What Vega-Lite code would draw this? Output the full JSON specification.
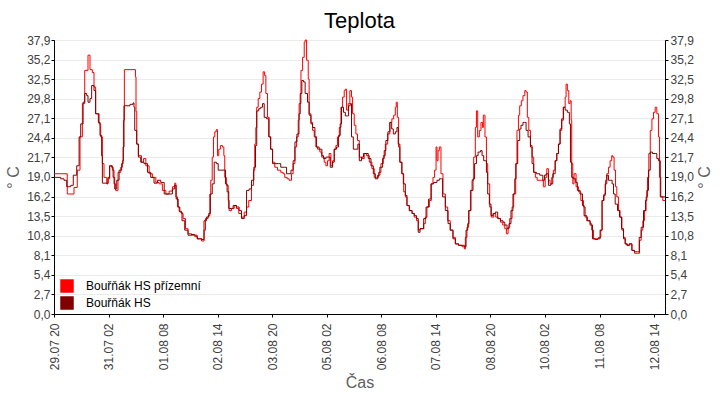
{
 "$schema": "https://vega.github.io/schema/vega-lite/v6.json",
 "width": 611,
 "height": 274,
 "autosize": {"type": "none"},
 "padding": {"left": 54, "top": 40, "right": 55, "bottom": 86},
 "background": "white",
 "title": {"text": "Teplota", "fontSize": 22, "font": "Liberation Sans", "fontWeight": "normal", "color": "#000000", "anchor": "middle", "offset": 1},
 "datasets": {
  "prizemni": [{"h":0,"t":19.4},{"h":7.3,"t":16.6},{"h":11.0,"t":17.5},{"h":12.8,"t":19.9},{"h":14.3,"t":24.5},{"h":15.6,"t":29.1},{"h":16.9,"t":33.7},{"h":18.7,"t":35.8},{"h":19.8,"t":33.8},{"h":21.1,"t":33.4},{"h":22.0,"t":31.4},{"h":22.9,"t":27.7},{"h":24.8,"t":26.3},{"h":25.7,"t":24.5},{"h":26.6,"t":20.8},{"h":27.5,"t":18.9},{"h":29.0,"t":18.0},{"h":29.7,"t":18.7},{"h":30.6,"t":20.5},{"h":32.1,"t":19.9},{"h":33.0,"t":18.0},{"h":33.9,"t":17.1},{"h":35.2,"t":19.6},{"h":36.7,"t":20.3},{"h":37.6,"t":21.2},{"h":38.2,"t":26.8},{"h":38.7,"t":33.8},{"h":44.0,"t":33.8},{"h":44.8,"t":32.8},{"h":45.1,"t":28.0},{"h":45.5,"t":23.5},{"h":46.4,"t":21.9},{"h":48.1,"t":21.0},{"h":49.2,"t":21.5},{"h":50.5,"t":20.5},{"h":52.3,"t":19.4},{"h":54.1,"t":18.9},{"h":56.0,"t":18.2},{"h":57.8,"t":18.0},{"h":59.6,"t":17.1},{"h":61.5,"t":16.6},{"h":63.3,"t":17.0},{"h":65.1,"t":17.6},{"h":66.4,"t":18.1},{"h":67.0,"t":16.2},{"h":67.9,"t":14.8},{"h":68.8,"t":14.2},{"h":70.1,"t":13.9},{"h":71.0,"t":13.2},{"h":72.3,"t":11.8},{"h":73.7,"t":11.1},{"h":75.6,"t":10.9},{"h":77.4,"t":10.7},{"h":78.9,"t":10.4},{"h":81.1,"t":10.1},{"h":82.5,"t":11.6},{"h":83.3,"t":13.2},{"h":84.7,"t":13.6},{"h":85.7,"t":16.6},{"h":86.2,"t":18.5},{"h":87.0,"t":21.7},{"h":87.7,"t":24.5},{"h":88.4,"t":25.2},{"h":89.2,"t":25.5},{"h":89.9,"t":21.9},{"h":90.6,"t":22.8},{"h":91.5,"t":23.3},{"h":92.6,"t":23.1},{"h":93.4,"t":21.9},{"h":93.9,"t":18.9},{"h":94.8,"t":17.8},{"h":95.8,"t":15.7},{"h":96.3,"t":14.3},{"h":97.6,"t":14.6},{"h":99.1,"t":15.0},{"h":100.3,"t":14.6},{"h":101.6,"t":13.9},{"h":103.1,"t":13.4},{"h":104.6,"t":14.1},{"h":105.9,"t":14.8},{"h":107.1,"t":15.7},{"h":108.6,"t":17.8},{"h":109.7,"t":19.9},{"h":110.4,"t":23.5},{"h":111.0,"t":25.8},{"h":111.5,"t":28.6},{"h":112.3,"t":29.8},{"h":113.2,"t":30.7},{"h":114.1,"t":31.8},{"h":115.0,"t":33.5},{"h":115.8,"t":33.0},{"h":116.5,"t":30.5},{"h":117.4,"t":27.2},{"h":118.3,"t":24.5},{"h":119.2,"t":22.8},{"h":120.2,"t":21.0},{"h":121.4,"t":20.3},{"h":122.9,"t":19.9},{"h":124.7,"t":19.6},{"h":126.0,"t":19.4},{"h":126.9,"t":18.9},{"h":128.2,"t":18.7},{"h":129.3,"t":18.5},{"h":130.6,"t":19.4},{"h":131.5,"t":20.8},{"h":132.5,"t":23.1},{"h":133.4,"t":24.5},{"h":134.3,"t":26.8},{"h":134.8,"t":29.1},{"h":135.8,"t":33.7},{"h":136.7,"t":35.5},{"h":137.6,"t":37.6},{"h":138.1,"t":37.9},{"h":138.9,"t":35.1},{"h":139.8,"t":32.5},{"h":140.3,"t":27.7},{"h":141.3,"t":26.5},{"h":142.2,"t":25.4},{"h":143.1,"t":24.5},{"h":144.0,"t":23.1},{"h":144.9,"t":22.8},{"h":146.2,"t":22.4},{"h":147.3,"t":21.7},{"h":148.6,"t":21.0},{"h":149.5,"t":20.5},{"h":150.4,"t":21.2},{"h":151.3,"t":22.2},{"h":152.3,"t":20.5},{"h":153.2,"t":21.2},{"h":154.1,"t":22.8},{"h":155.0,"t":23.3},{"h":155.9,"t":24.5},{"h":156.9,"t":25.8},{"h":157.8,"t":28.6},{"h":158.7,"t":30.0},{"h":159.6,"t":30.9},{"h":160.2,"t":31.1},{"h":160.9,"t":28.2},{"h":161.8,"t":29.1},{"h":162.7,"t":30.9},{"h":163.6,"t":30.0},{"h":164.2,"t":27.7},{"h":165.1,"t":26.1},{"h":166.0,"t":24.9},{"h":166.9,"t":24.0},{"h":167.9,"t":21.7},{"h":169.3,"t":21.5},{"h":170.6,"t":22.2},{"h":171.9,"t":21.9},{"h":173.4,"t":21.0},{"h":174.8,"t":20.1},{"h":176.1,"t":18.9},{"h":177.4,"t":18.9},{"h":178.5,"t":19.6},{"h":179.8,"t":20.8},{"h":181.1,"t":21.9},{"h":182.2,"t":23.5},{"h":183.5,"t":24.9},{"h":184.7,"t":26.5},{"h":185.8,"t":27.0},{"h":186.8,"t":27.5},{"h":187.7,"t":28.6},{"h":188.2,"t":29.3},{"h":188.8,"t":27.2},{"h":189.5,"t":23.1},{"h":190.2,"t":21.0},{"h":191.3,"t":19.4},{"h":192.3,"t":16.9},{"h":193.2,"t":16.2},{"h":194.1,"t":15.0},{"h":195.4,"t":14.3},{"h":196.9,"t":13.9},{"h":198.1,"t":13.4},{"h":199.4,"t":12.9},{"h":200.3,"t":11.6},{"h":201.3,"t":11.8},{"h":203.3,"t":12.5},{"h":204.2,"t":13.4},{"h":205.1,"t":14.8},{"h":206.4,"t":15.7},{"h":207.5,"t":18.0},{"h":208.4,"t":18.9},{"h":209.3,"t":19.9},{"h":210.1,"t":23.1},{"h":210.6,"t":21.2},{"h":211.2,"t":22.6},{"h":211.9,"t":23.1},{"h":212.8,"t":19.4},{"h":213.9,"t":16.6},{"h":215.2,"t":14.8},{"h":216.5,"t":12.9},{"h":217.9,"t":11.6},{"h":219.4,"t":10.6},{"h":220.7,"t":9.7},{"h":222.5,"t":9.5},{"h":224.4,"t":9.3},{"h":225.7,"t":9.0},{"h":226.2,"t":10.6},{"h":227.1,"t":12.0},{"h":228.0,"t":14.3},{"h":229.0,"t":17.1},{"h":229.9,"t":18.5},{"h":230.8,"t":21.7},{"h":231.7,"t":25.8},{"h":232.3,"t":28.1},{"h":233.0,"t":24.5},{"h":233.9,"t":25.4},{"h":234.8,"t":26.5},{"h":235.6,"t":25.8},{"h":236.1,"t":27.5},{"h":237.0,"t":24.5},{"h":237.8,"t":20.8},{"h":238.5,"t":18.0},{"h":239.6,"t":14.8},{"h":240.5,"t":13.4},{"h":241.8,"t":13.9},{"h":242.9,"t":13.4},{"h":244.2,"t":13.2},{"h":245.5,"t":12.7},{"h":246.8,"t":12.3},{"h":247.9,"t":11.8},{"h":248.8,"t":11.1},{"h":249.7,"t":12.0},{"h":250.6,"t":13.2},{"h":251.9,"t":14.8},{"h":252.8,"t":16.6},{"h":253.9,"t":20.8},{"h":254.6,"t":25.4},{"h":255.4,"t":27.5},{"h":256.1,"t":28.8},{"h":257.0,"t":29.5},{"h":257.9,"t":30.2},{"h":258.9,"t":30.9},{"h":259.6,"t":30.7},{"h":260.3,"t":27.2},{"h":261.1,"t":25.4},{"h":262.0,"t":23.3},{"h":262.9,"t":21.7},{"h":263.8,"t":19.6},{"h":264.7,"t":18.9},{"h":265.7,"t":18.5},{"h":267.1,"t":18.5},{"h":268.2,"t":18.5},{"h":269.1,"t":17.6},{"h":270.1,"t":18.9},{"h":271.0,"t":20.1},{"h":271.9,"t":18.5},{"h":272.8,"t":18.0},{"h":273.7,"t":18.9},{"h":274.6,"t":19.9},{"h":275.6,"t":21.2},{"h":276.5,"t":22.2},{"h":277.4,"t":23.5},{"h":278.3,"t":25.4},{"h":279.2,"t":26.8},{"h":280.1,"t":28.6},{"h":281.1,"t":30.0},{"h":281.6,"t":31.8},{"h":282.3,"t":30.9},{"h":283.1,"t":29.1},{"h":283.8,"t":29.5},{"h":284.4,"t":26.8},{"h":284.7,"t":20.8},{"h":285.3,"t":18.0},{"h":286.0,"t":19.4},{"h":287.1,"t":17.6},{"h":288.4,"t":16.9},{"h":289.7,"t":15.7},{"h":291.2,"t":14.8},{"h":292.1,"t":13.4},{"h":293.4,"t":12.9},{"h":294.8,"t":12.5},{"h":295.7,"t":11.6},{"h":296.7,"t":10.4},{"h":298.1,"t":10.4},{"h":299.4,"t":10.6},{"h":300.7,"t":11.6},{"h":301.4,"t":15.7},{"h":302.5,"t":16.6},{"h":303.3,"t":18.5},{"h":304.0,"t":19.4},{"h":304.9,"t":20.3},{"h":305.8,"t":21.2},{"h":306.7,"t":21.9},{"h":307.3,"t":21.7},{"h":308.0,"t":19.9},{"h":308.8,"t":17.6},{"h":309.5,"t":16.2},{"h":310.4,"t":14.3},{"h":311.3,"t":13.4},{"h":312.3,"t":11.6},{"h":313.2,"t":10.6},{"h":314.1,"t":9.7},{"h":315.4,"t":9.5},{"h":316.5,"t":9.7},{"h":317.8,"t":8.8},{"h":319.2,"t":8.4},{"h":320.9,"t":8.4},{"h":322.0,"t":10.2},{"h":322.9,"t":11.6},{"h":323.8,"t":12.9},{"h":324.7,"t":14.3},{"h":325.6,"t":16.2},{"h":326.4,"t":18.9},{"h":327.1,"t":22.2},{"h":327.9,"t":25.4},{"h":328.8,"t":27.0},{"h":329.7,"t":27.9},{"h":330.6,"t":28.6},{"h":331.5,"t":27.7},{"h":332.4,"t":24.5},{"h":333.0,"t":18.9},{"h":333.7,"t":16.2},{"h":334.8,"t":15.7},{"h":336.0,"t":15.7}],
  "hs": [{"h":0,"t":18.9},{"h":3.7,"t":18.7},{"h":5.5,"t":18.5},{"h":7.0,"t":17.6},{"h":9.2,"t":17.8},{"h":10.6,"t":19.2},{"h":12.5,"t":20.5},{"h":13.8,"t":24.5},{"h":14.7,"t":26.3},{"h":16.0,"t":29.3},{"h":16.9,"t":30.5},{"h":18.0,"t":30.2},{"h":18.7,"t":29.3},{"h":19.8,"t":29.8},{"h":20.7,"t":31.6},{"h":22.0,"t":30.9},{"h":22.9,"t":27.7},{"h":24.4,"t":26.5},{"h":25.3,"t":24.7},{"h":26.2,"t":21.9},{"h":26.6,"t":18.1},{"h":29.0,"t":18.1},{"h":29.7,"t":18.9},{"h":30.6,"t":20.5},{"h":31.7,"t":20.3},{"h":32.5,"t":18.9},{"h":33.4,"t":17.3},{"h":34.5,"t":18.5},{"h":35.8,"t":19.9},{"h":37.2,"t":20.8},{"h":38.0,"t":23.1},{"h":38.5,"t":28.8},{"h":41.8,"t":29.0},{"h":43.5,"t":29.2},{"h":44.0,"t":28.6},{"h":44.4,"t":25.4},{"h":45.5,"t":23.5},{"h":46.4,"t":21.7},{"h":47.7,"t":21.0},{"h":49.5,"t":20.8},{"h":51.4,"t":19.6},{"h":53.2,"t":18.9},{"h":55.0,"t":18.1},{"h":56.9,"t":18.5},{"h":58.7,"t":18.2},{"h":60.6,"t":16.6},{"h":63.3,"t":16.6},{"h":65.1,"t":17.3},{"h":66.4,"t":17.8},{"h":67.2,"t":15.9},{"h":68.3,"t":14.8},{"h":69.2,"t":14.1},{"h":70.4,"t":12.9},{"h":71.9,"t":11.6},{"h":73.7,"t":10.9},{"h":75.6,"t":11.0},{"h":77.4,"t":10.9},{"h":78.7,"t":10.4},{"h":80.2,"t":10.4},{"h":81.4,"t":10.3},{"h":82.5,"t":12.9},{"h":83.8,"t":13.4},{"h":85.1,"t":13.9},{"h":86.0,"t":16.6},{"h":87.0,"t":18.0},{"h":88.1,"t":21.0},{"h":89.3,"t":20.8},{"h":90.3,"t":19.9},{"h":93.6,"t":19.9},{"h":94.3,"t":18.0},{"h":95.2,"t":16.9},{"h":96.1,"t":14.6},{"h":97.6,"t":14.6},{"h":98.5,"t":15.0},{"h":100.3,"t":14.8},{"h":101.8,"t":14.3},{"h":103.1,"t":13.2},{"h":104.6,"t":13.6},{"h":105.9,"t":17.1},{"h":107.3,"t":17.3},{"h":108.6,"t":18.5},{"h":109.9,"t":20.3},{"h":110.8,"t":23.3},{"h":111.5,"t":28.1},{"h":112.6,"t":28.4},{"h":113.7,"t":28.6},{"h":114.7,"t":29.1},{"h":115.6,"t":27.2},{"h":116.9,"t":27.0},{"h":118.1,"t":24.5},{"h":119.1,"t":22.8},{"h":120.2,"t":20.8},{"h":123.3,"t":20.8},{"h":124.7,"t":20.3},{"h":126.9,"t":20.3},{"h":127.9,"t":19.4},{"h":129.2,"t":19.4},{"h":130.3,"t":19.9},{"h":131.5,"t":21.2},{"h":132.5,"t":23.8},{"h":133.6,"t":24.9},{"h":134.7,"t":27.7},{"h":135.4,"t":30.5},{"h":136.3,"t":32.3},{"h":137.2,"t":32.1},{"h":138.1,"t":30.5},{"h":139.4,"t":29.3},{"h":140.3,"t":27.5},{"h":141.3,"t":26.3},{"h":142.2,"t":25.8},{"h":143.5,"t":24.5},{"h":144.4,"t":23.1},{"h":145.8,"t":22.8},{"h":147.3,"t":21.9},{"h":148.2,"t":21.5},{"h":149.5,"t":21.7},{"h":150.8,"t":21.7},{"h":151.9,"t":20.3},{"h":153.2,"t":21.0},{"h":154.1,"t":22.8},{"h":155.4,"t":23.1},{"h":156.5,"t":24.7},{"h":157.4,"t":26.3},{"h":158.1,"t":28.6},{"h":159.2,"t":27.9},{"h":160.2,"t":27.4},{"h":161.4,"t":27.4},{"h":162.0,"t":28.8},{"h":162.9,"t":29.1},{"h":163.6,"t":24.5},{"h":164.6,"t":22.8},{"h":166.0,"t":22.8},{"h":167.1,"t":23.5},{"h":167.9,"t":21.2},{"h":169.1,"t":21.7},{"h":170.2,"t":22.2},{"h":171.5,"t":22.2},{"h":172.8,"t":21.5},{"h":174.3,"t":20.5},{"h":175.6,"t":19.4},{"h":176.7,"t":18.7},{"h":178.0,"t":19.2},{"h":179.2,"t":20.3},{"h":180.7,"t":21.5},{"h":181.6,"t":22.6},{"h":182.5,"t":24.0},{"h":183.6,"t":25.2},{"h":184.7,"t":26.5},{"h":185.7,"t":25.6},{"h":186.6,"t":24.9},{"h":187.7,"t":25.2},{"h":188.6,"t":25.8},{"h":189.3,"t":23.5},{"h":190.2,"t":21.0},{"h":191.3,"t":19.4},{"h":192.1,"t":18.0},{"h":193.2,"t":16.4},{"h":194.1,"t":15.0},{"h":195.4,"t":14.3},{"h":196.9,"t":13.9},{"h":198.1,"t":13.6},{"h":199.4,"t":13.2},{"h":200.3,"t":11.3},{"h":201.3,"t":11.8},{"h":203.3,"t":13.2},{"h":204.6,"t":14.8},{"h":206.0,"t":15.9},{"h":207.3,"t":18.0},{"h":208.8,"t":18.2},{"h":210.6,"t":18.5},{"h":211.9,"t":18.7},{"h":213.0,"t":18.7},{"h":213.7,"t":16.2},{"h":215.2,"t":14.3},{"h":216.7,"t":12.5},{"h":217.9,"t":11.6},{"h":219.4,"t":10.4},{"h":220.7,"t":9.7},{"h":222.5,"t":9.5},{"h":224.4,"t":9.5},{"h":225.7,"t":9.3},{"h":226.6,"t":11.6},{"h":227.5,"t":12.5},{"h":228.2,"t":14.3},{"h":229.3,"t":17.1},{"h":230.4,"t":18.7},{"h":231.3,"t":20.8},{"h":232.3,"t":21.9},{"h":233.2,"t":22.4},{"h":234.5,"t":22.6},{"h":235.4,"t":21.9},{"h":236.3,"t":21.2},{"h":237.2,"t":21.2},{"h":237.8,"t":19.6},{"h":238.5,"t":16.6},{"h":239.4,"t":15.2},{"h":240.3,"t":13.6},{"h":241.4,"t":13.9},{"h":242.7,"t":14.1},{"h":244.0,"t":13.2},{"h":245.5,"t":12.9},{"h":246.9,"t":12.7},{"h":247.9,"t":12.3},{"h":249.1,"t":11.8},{"h":250.2,"t":12.5},{"h":251.3,"t":14.3},{"h":252.4,"t":16.6},{"h":253.4,"t":18.7},{"h":254.1,"t":20.8},{"h":255.0,"t":24.0},{"h":256.1,"t":25.6},{"h":256.8,"t":26.1},{"h":257.9,"t":26.5},{"h":258.7,"t":26.5},{"h":259.6,"t":25.4},{"h":260.7,"t":24.5},{"h":262.0,"t":23.1},{"h":262.9,"t":20.8},{"h":263.8,"t":19.6},{"h":265.3,"t":19.4},{"h":267.1,"t":19.2},{"h":268.8,"t":18.5},{"h":269.7,"t":19.2},{"h":270.6,"t":19.4},{"h":271.9,"t":17.8},{"h":273.2,"t":18.0},{"h":274.3,"t":19.4},{"h":275.6,"t":21.2},{"h":276.5,"t":22.2},{"h":277.4,"t":23.5},{"h":278.3,"t":25.6},{"h":279.2,"t":27.0},{"h":280.1,"t":28.6},{"h":281.1,"t":28.2},{"h":282.3,"t":27.9},{"h":283.4,"t":26.3},{"h":284.0,"t":21.0},{"h":284.7,"t":18.9},{"h":285.6,"t":18.7},{"h":286.9,"t":18.2},{"h":287.8,"t":17.1},{"h":289.3,"t":16.6},{"h":290.6,"t":15.0},{"h":291.5,"t":13.6},{"h":293.0,"t":12.9},{"h":294.8,"t":12.3},{"h":296.1,"t":10.4},{"h":297.6,"t":10.3},{"h":298.9,"t":10.4},{"h":300.3,"t":11.6},{"h":301.4,"t":15.7},{"h":302.2,"t":16.4},{"h":303.1,"t":18.0},{"h":304.0,"t":19.2},{"h":304.9,"t":18.5},{"h":306.2,"t":18.5},{"h":306.9,"t":18.0},{"h":307.7,"t":16.6},{"h":308.6,"t":15.2},{"h":309.9,"t":14.3},{"h":311.0,"t":13.4},{"h":312.1,"t":11.8},{"h":313.2,"t":10.4},{"h":314.1,"t":9.7},{"h":315.0,"t":9.5},{"h":316.3,"t":9.7},{"h":317.8,"t":8.8},{"h":319.2,"t":8.6},{"h":320.9,"t":8.6},{"h":321.8,"t":10.6},{"h":322.9,"t":12.0},{"h":324.2,"t":14.3},{"h":325.3,"t":15.7},{"h":326.0,"t":17.1},{"h":326.9,"t":19.9},{"h":327.9,"t":22.4},{"h":329.1,"t":22.2},{"h":330.6,"t":22.2},{"h":331.5,"t":21.5},{"h":332.4,"t":21.2},{"h":333.4,"t":16.2},{"h":336.0,"t":16.2}]
 },
 "encoding": {
  "x": {"field": "h", "type": "quantitative", "scale": {"domain": [0, 336], "nice": false, "zero": false},
   "axis": {"values": [0, 30, 60, 90, 120, 150, 180, 210, 240, 270, 300, 330],
    "labelExpr": "timeFormat(datetime(2020, 6, 29, 20 + datum.value), '%d.%m %H')",
    "labelAngle": -90, "labelAlign": "right", "labelBaseline": "middle", "title": "Čas", "grid": false,
    "tickSize": 3, "labelPadding": 6, "titlePadding": 5}}
 },
 "layer": [
  {"data": {"name": "prizemni"},
   "mark": {"type": "line", "interpolate": "step-after", "strokeWidth": 1},
   "encoding": {
    "y": {"field": "t", "type": "quantitative", "scale": {"domain": [0, 37.9], "nice": false, "zero": true},
     "axis": {"orient": "left", "title": "° C", "values": [0, 2.7071, 5.4143, 8.1214, 10.8286, 13.5357, 16.2429, 18.95001, 21.6571, 24.3643, 27.0714, 29.7786, 32.4857, 35.1929, 37.9],
      "labelExpr": "replace(format(datum.value, '.1f'), '.', ',')", "grid": true, "tickSize": 3, "labelPadding": 1, "titlePadding": 5}},
    "color": {"datum": "Bouřňák HS přízemní", "type": "nominal",
     "scale": {"domain": ["Bouřňák HS přízemní", "Bouřňák HS"], "range": ["#ff0000", "#800000"]},
     "legend": {"title": null, "orient": "none", "legendX": 6, "legendY": 239, "symbolType": "square", "symbolSize": 182,
      "symbolStrokeWidth": 0, "labelFontSize": 12, "labelFont": "Liberation Sans", "labelColor": "#000000", "labelOffset": 12, "rowPadding": 3, "padding": 0,
      "encode": {"symbols": {"update": {"fill": {"scale": "color", "field": "value"}, "strokeWidth": {"value": 0}, "opacity": {"value": 1}}}}}}
   }},
  {"data": {"name": "hs"},
   "mark": {"type": "line", "interpolate": "step-after", "strokeWidth": 1},
   "encoding": {
    "y": {"field": "t", "type": "quantitative", "axis": null},
    "color": {"datum": "Bouřňák HS", "type": "nominal"}
   }},
  {"data": {"name": "hs"},
   "mark": {"type": "line", "opacity": 0},
   "encoding": {
    "y": {"field": "t", "type": "quantitative",
     "axis": {"orient": "right", "title": "° C", "titleAngle": -90, "titleBaseline": "top", "values": [0, 2.7071, 5.4143, 8.1214, 10.8286, 13.5357, 16.2429, 18.95001, 21.6571, 24.3643, 27.0714, 29.7786, 32.4857, 35.1929, 37.9],
      "labelExpr": "replace(format(datum.value, '.1f'), '.', ',')", "grid": false, "tickSize": 3, "labelPadding": 2, "titlePadding": 3}}
   }}
 ],
 "resolve": {"scale": {"y": "shared"}, "axis": {"y": "independent"}},
 "config": {
  "view": {"stroke": "#000000", "strokeWidth": 1},
  "axis": {"domainColor": "#000000", "tickColor": "#000000", "labelColor": "#404040", "labelFont": "Liberation Sans", "labelFontSize": 12,
   "titleFont": "Liberation Sans", "titleFontSize": 16, "titleFontWeight": "normal", "titleColor": "#606060", "gridColor": "#ebebeb", "gridWidth": 1}
 }
}
